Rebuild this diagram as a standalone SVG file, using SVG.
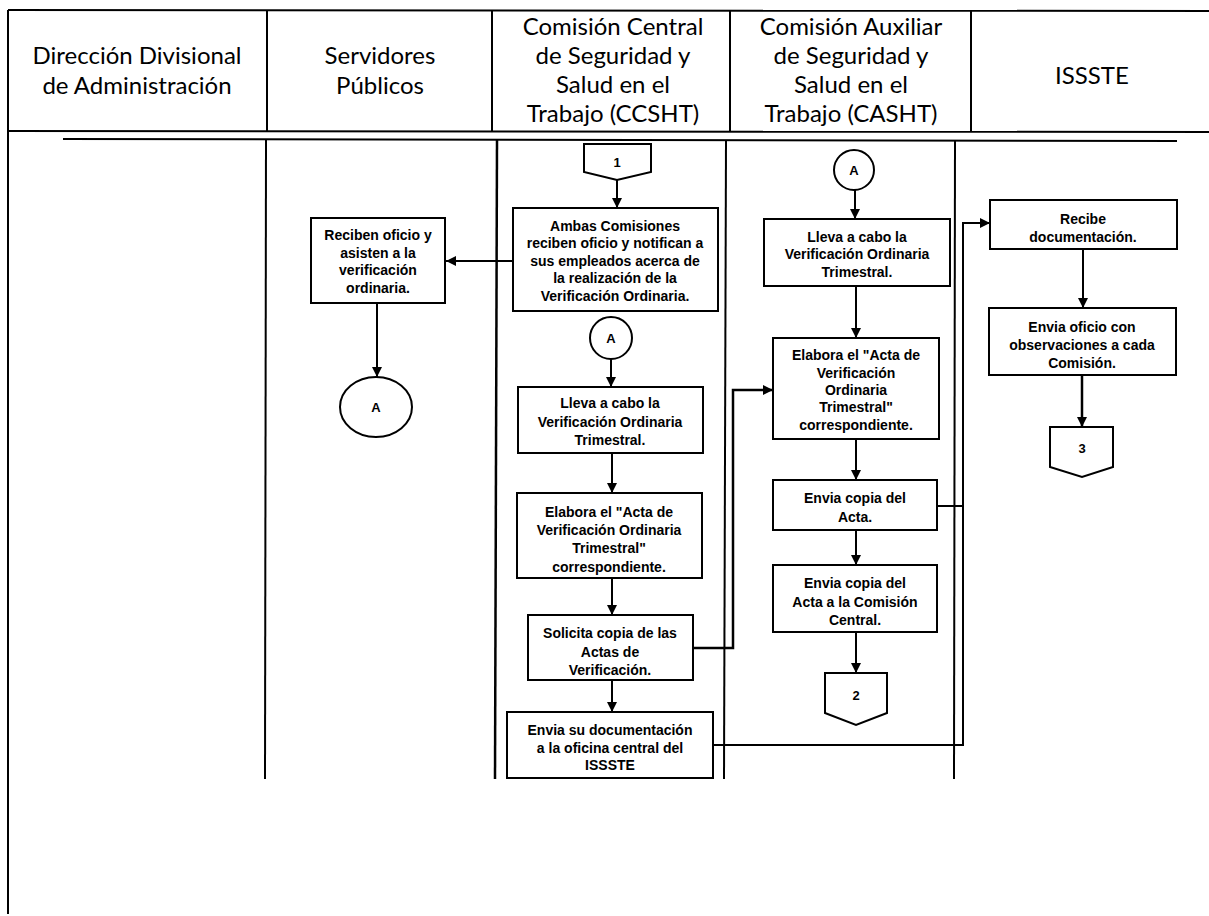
<svg xmlns="http://www.w3.org/2000/svg" width="1209" height="916" viewBox="0 0 1209 916">
<defs>
<marker id="arr" markerUnits="userSpaceOnUse" markerWidth="10" markerHeight="10" refX="10" refY="5" orient="auto">
<path d="M0,0 L10,5 L0,10 z" fill="#000"/>
</marker>
<style>
.hd{font-family:Lato,"Open Sans",sans-serif;font-size:24px;fill:#000;text-anchor:middle}
.tx{font-family:"Liberation Sans",Arial,sans-serif;font-size:14px;font-weight:bold;fill:#000;text-anchor:middle}
.lbl{font-family:"Liberation Sans",Arial,sans-serif;font-size:13px;font-weight:bold;fill:#000;text-anchor:middle}
.box{fill:#fff;stroke:#000;stroke-width:2}
.grid{stroke:#000;stroke-width:2;fill:none}
.cn{stroke:#000;stroke-width:2;fill:none}
.ca{stroke:#000;stroke-width:2;fill:none;marker-end:url(#arr)}
</style>
</defs>
<rect width="1209" height="916" fill="#fff"/>

<g id="table">
<line class="grid" x1="8" y1="10" x2="1209" y2="11"/>
<line class="grid" x1="8" y1="131" x2="1209" y2="132"/>
<line class="grid" x1="63" y1="139" x2="1177" y2="141"/>
<line class="grid" x1="8" y1="10" x2="8" y2="914"/>
<line class="grid" x1="267" y1="10" x2="267" y2="131"/>
<line class="grid" x1="492" y1="10" x2="492" y2="131"/>
<line class="grid" x1="730" y1="10" x2="730" y2="131"/>
<line class="grid" x1="971" y1="10" x2="971" y2="131"/>
<line class="grid" x1="266" y1="140" x2="265" y2="779"/>
<line class="grid" x1="497" y1="140" x2="495" y2="779" style="stroke-width:2.5"/>
<line class="grid" x1="726" y1="140" x2="724" y2="779"/>
<line class="grid" x1="955" y1="140" x2="954" y2="779"/>
</g>

<g id="headers">
<text class="hd" x="137" y="64">Dirección Divisional</text>
<text class="hd" x="137" y="94">de Administración</text>
<text class="hd" x="380" y="64">Servidores</text>
<text class="hd" x="380" y="94">Públicos</text>
<text class="hd" x="613" y="35">Comisión Central</text>
<text class="hd" x="613" y="64">de Seguridad y</text>
<text class="hd" x="613" y="93">Salud en el</text>
<text class="hd" x="613" y="122">Trabajo (CCSHT)</text>
<text class="hd" x="851" y="35">Comisión Auxiliar</text>
<text class="hd" x="851" y="64">de Seguridad y</text>
<text class="hd" x="851" y="93">Salud en el</text>
<text class="hd" x="851" y="122">Trabajo (CASHT)</text>
<text class="hd" x="1092" y="84">ISSSTE</text>
</g>

<g id="connectors">
<line class="ca" x1="513" y1="261" x2="446" y2="261"/>
<line class="ca" x1="377" y1="303" x2="377" y2="377"/>
<line class="ca" x1="617" y1="180" x2="617" y2="208"/>
<line class="ca" x1="611" y1="359" x2="611" y2="387"/>
<line class="ca" x1="612" y1="453" x2="612" y2="493"/>
<line class="ca" x1="612" y1="578" x2="612" y2="615"/>
<line class="ca" x1="612" y1="680" x2="612" y2="712"/>
<polyline class="ca" points="693,648 733,648 733,390 773,390" style="stroke-width:2.5"/>
<polyline class="ca" points="713,745 963,745 963,223 990,223"/>
<line class="cn" x1="937" y1="506" x2="963" y2="506"/>
<line class="ca" x1="855" y1="190" x2="855" y2="219"/>
<line class="ca" x1="856" y1="286" x2="856" y2="338"/>
<line class="ca" x1="856" y1="439" x2="856" y2="480"/>
<line class="ca" x1="856" y1="530" x2="856" y2="565"/>
<line class="ca" x1="856" y1="632" x2="856" y2="673"/>
<line class="ca" x1="1083" y1="249" x2="1083" y2="308"/>
<line class="ca" x1="1082" y1="375" x2="1082" y2="427" style="stroke-width:2.5"/>
</g>

<g id="n-sp-recibe">
<rect class="box" x="311" y="218" width="134" height="85"/>
<text class="tx" x="378" y="240">Reciben oficio y</text>
<text class="tx" x="378" y="258">asisten a la</text>
<text class="tx" x="378" y="275">verificación</text>
<text class="tx" x="378" y="293">ordinaria.</text>
</g>
<g id="n-sp-a">
<ellipse class="box" cx="376" cy="407" rx="36" ry="30"/>
<text class="lbl" x="376" y="412">A</text>
</g>

<g id="n-cc-1">
<polygon class="box" points="584,144 651,144 651,172 617,180 584,172"/>
<text class="lbl" x="617" y="167">1</text>
</g>
<g id="n-cc-ambas">
<rect class="box" x="513" y="208" width="205" height="103"/>
<text class="tx" x="615" y="231">Ambas Comisiones</text>
<text class="tx" x="615" y="248">reciben oficio y notifican a</text>
<text class="tx" x="615" y="266">sus empleados acerca de</text>
<text class="tx" x="615" y="283">la realización de la</text>
<text class="tx" x="615" y="301">Verificación Ordinaria.</text>
</g>
<g id="n-cc-a">
<circle class="box" cx="611" cy="338" r="21"/>
<text class="lbl" x="611" y="343">A</text>
</g>
<g id="n-cc-lleva">
<rect class="box" x="518" y="387" width="185" height="66"/>
<text class="tx" x="610" y="408">Lleva a cabo la</text>
<text class="tx" x="610" y="427">Verificación Ordinaria</text>
<text class="tx" x="610" y="445">Trimestral.</text>
</g>
<g id="n-cc-elabora">
<rect class="box" x="517" y="493" width="185" height="85"/>
<text class="tx" x="609" y="517">Elabora el "Acta de</text>
<text class="tx" x="609" y="535">Verificación Ordinaria</text>
<text class="tx" x="609" y="553">Trimestral"</text>
<text class="tx" x="609" y="572">correspondiente.</text>
</g>
<g id="n-cc-solicita">
<rect class="box" x="528" y="615" width="165" height="65"/>
<text class="tx" x="610" y="638">Solicita copia de las</text>
<text class="tx" x="610" y="657">Actas de</text>
<text class="tx" x="610" y="675">Verificación.</text>
</g>
<g id="n-cc-envia">
<rect class="box" x="507" y="712" width="206" height="66"/>
<text class="tx" x="610" y="735">Envia su documentación</text>
<text class="tx" x="610" y="753">a la oficina central del</text>
<text class="tx" x="610" y="770">ISSSTE</text>
</g>

<g id="n-ca-a">
<circle class="box" cx="854" cy="170" r="20"/>
<text class="lbl" x="854" y="175">A</text>
</g>
<g id="n-ca-lleva">
<rect class="box" x="764" y="219" width="186" height="67"/>
<text class="tx" x="857" y="242">Lleva a cabo la</text>
<text class="tx" x="857" y="259">Verificación Ordinaria</text>
<text class="tx" x="857" y="277">Trimestral.</text>
</g>
<g id="n-ca-elabora">
<rect class="box" x="773" y="338" width="166" height="101"/>
<text class="tx" x="856" y="360">Elabora el "Acta de</text>
<text class="tx" x="856" y="378">Verificación</text>
<text class="tx" x="856" y="395">Ordinaria</text>
<text class="tx" x="856" y="412">Trimestral"</text>
<text class="tx" x="856" y="430">correspondiente.</text>
</g>
<g id="n-ca-envia1">
<rect class="box" x="773" y="480" width="164" height="50"/>
<text class="tx" x="855" y="503">Envia copia del</text>
<text class="tx" x="855" y="522">Acta.</text>
</g>
<g id="n-ca-envia2">
<rect class="box" x="773" y="565" width="164" height="67"/>
<text class="tx" x="855" y="588">Envia copia del</text>
<text class="tx" x="855" y="607">Acta a la Comisión</text>
<text class="tx" x="855" y="625">Central.</text>
</g>
<g id="n-ca-2">
<polygon class="box" points="825,673 887,673 887,713 856,725 825,713"/>
<text class="lbl" x="856" y="700">2</text>
</g>

<g id="n-is-recibe">
<rect class="box" x="990" y="200" width="187" height="49"/>
<text class="tx" x="1083" y="224">Recibe</text>
<text class="tx" x="1083" y="242">documentación.</text>
</g>
<g id="n-is-envia">
<rect class="box" x="989" y="308" width="187" height="67"/>
<text class="tx" x="1082" y="332">Envia oficio con</text>
<text class="tx" x="1082" y="350">observaciones a cada</text>
<text class="tx" x="1082" y="368">Comisión.</text>
</g>
<g id="n-is-3">
<polygon class="box" points="1050,427 1113,427 1113,467 1082,477 1050,467"/>
<text class="lbl" x="1082" y="453">3</text>
</g>
</svg>
